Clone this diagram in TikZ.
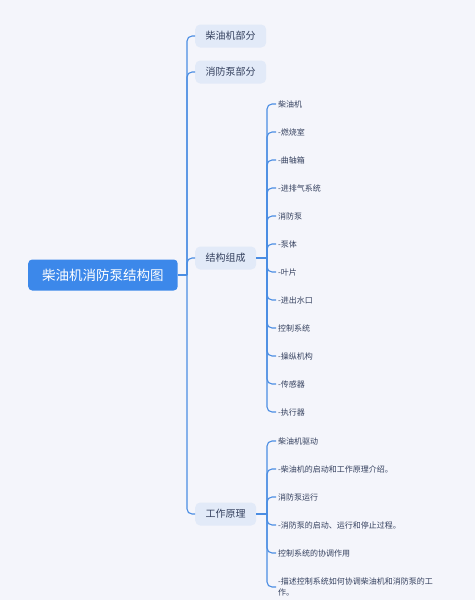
\documentclass[tikz,border=0pt]{standalone}
\usepackage{fontspec}
\setmainfont{Noto Sans CJK SC}
\usetikzlibrary{positioning}
\definecolor{bgcol}{HTML}{F4F5FB}
\definecolor{linecol}{HTML}{4A8DE3}
\definecolor{rootcol}{HTML}{3C88EA}
\definecolor{boxcol}{HTML}{E2EAF8}
\definecolor{txtcol}{HTML}{34405E}
\tikzstyle{root} = [fill=rootcol, rounded corners=4pt, text=white, font=\fontsize{13.5}{16}\selectfont, inner xsep=14pt, minimum height=31pt, anchor=west]
\tikzstyle{topic} = [fill=boxcol, rounded corners=5pt, text=txtcol, font=\fontsize{10}{12}\selectfont, inner xsep=10.5pt, minimum height=23pt, anchor=west]
\tikzstyle{leaf} = [text=txtcol, font=\fontsize{8}{10.5}\selectfont, inner xsep=2pt, inner ysep=1pt, anchor=west, align=left]
\tikzstyle{link} = [draw=linecol, line width=1.1pt, rounded corners=5pt]

\begin{document}
\begin{tikzpicture}[x=1pt,y=-1pt]
  \fill[bgcol] (0,0) rectangle (475,600);
  \useasboundingbox (0,0) rectangle (475,600);
  \node[root] (root) at (28,275) {柴油机消防泵结构图};
  \node[topic] (diesel) at (195,36) {柴油机部分};
  \node[topic] (pump) at (195,72) {消防泵部分};
  \node[topic] (struct) at (195,258) {结构组成};
  \node[topic] (work) at (195,514) {工作原理};
  \coordinate (hub) at (187,275);
  \draw[link] (root.east) -- (hub);
  \foreach \t in {diesel,pump,struct,work}
    \draw[link] (hub) |- (\t.west);

  % 结构组成
  \coordinate (hubS) at (267,258);
  \draw[link] (struct.east) -- (hubS);
  \foreach \txt [count=\i] in {柴油机,-燃烧室,-曲轴箱,-进排气系统,消防泵,-泵体,-叶片,-进出水口,控制系统,-操纵机构,-传感器,-执行器}
  {
    \node[leaf] (s\i) at (276,76+28*\i) {\txt};
    \draw[link] (hubS) |- (s\i.west);
  }

  % 工作原理
  \coordinate (hubW) at (267,514);
  \draw[link] (work.east) -- (hubW);
  \foreach \y/\txt [count=\i] in {441/柴油机驱动,469/-柴油机的启动和工作原理介绍。,497/消防泵运行,525/-消防泵的启动、运行和停止过程。,553/控制系统的协调作用,587/{-描述控制系统如何协调柴油机和消防泵的工\\作。}}
  {
    \node[leaf] (w\i) at (276,\y) {\txt};
    \draw[link] (hubW) |- (w\i.west);
  }
\end{tikzpicture}
\end{document}
